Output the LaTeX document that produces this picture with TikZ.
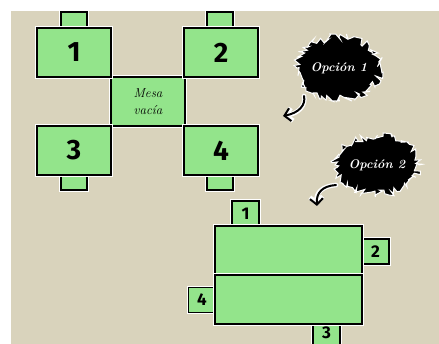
\documentclass[tikz,border=0pt]{standalone}
\usepackage{fontspec}
\setsansfont{Fira Sans}
\usetikzlibrary{arrows.meta,shapes.geometric,decorations.pathmorphing}
\definecolor{pared}{RGB}{217,211,188}
\definecolor{verdemesa}{RGB}{147,228,139}

\tikzset{
  halo/.style={preaction={draw=white,line width=3.6pt}},
  mesa/.style={draw=black,fill=verdemesa,line width=1.4pt,halo,inner sep=0pt,
    minimum width=74pt,minimum height=49pt,
    font=\sffamily\bfseries\fontsize{28}{28}\selectfont},
  silla/.style={mesa,minimum width=26pt,minimum height=16pt},
  sillab/.style={mesa,minimum width=27pt,minimum height=25pt,
    font=\sffamily\bfseries\fontsize{17}{17}\selectfont},
  mancha/.style={ellipse,fill=black,draw=white,line width=1pt,inner sep=1pt,
    minimum width=84pt,minimum height=62pt,text=white,
    font=\bfseries\itshape\fontsize{12.5}{12.5}\selectfont,
    decorate,decoration={random steps,segment length=2.2pt,amplitude=3.8pt}},
  flecha/.style={line width=2pt,line cap=round,-{Straight Barb[length=6pt,width=13pt]}},
  flechahalo/.style={flecha,white,line width=4.6pt}
}

\begin{document}
\begin{tikzpicture}[x=1pt,y=-1pt]
\clip (0,0) rectangle (439,344);
\fill[white] (0,0) rectangle (439,344);
\fill[pared] (11,11) rectangle (439,344);

% opcion 1
\node[silla] (s1) at (74,20) {};
\node[silla] (s2) at (220,20) {};
\node[silla] (s3) at (74,182) {};
\node[silla] (s4) at (220,182) {};
\node[mesa,font=\itshape\fontsize{13}{17}\selectfont,align=center] (vacia) at (148,101.5) {Mesa\\vacía};
\node[mesa] (m1) at (74,52.5) {1};
\node[mesa] (m2) at (221,52.5) {2};
\node[mesa] (m3) at (74,150.5) {3};
\node[mesa] (m4) at (221,150.5) {4};

% opcion 2
\node[sillab] (b1) at (245.5,213.5) {1};
\node[sillab] (b2) at (375.5,251.5) {2};
\node[sillab] (b4) at (202,300) {4};
\node[sillab,minimum height=36pt] (b3) at (326.5,333) {3};
\node[mesa,minimum width=147pt] (arriba) at (288.5,250.5) {};
\node[mesa,minimum width=147pt] (abajo) at (288.5,299.5) {};

% manchas y flechas
\node[mancha] (op1) at (339,68) {Opción 1};
\node[mancha,minimum width=84pt,minimum height=58pt] (op2) at (377,165) {Opción 2};

\coordinate (f1a) at (304,96);
\coordinate (f1b) at (283,116);
\coordinate (f2a) at (336,185);
\coordinate (f2b) at (317,206);
\draw[flechahalo] (f1a) .. controls (306,105) and (299,113) .. (f1b);
\draw[flecha] (f1a) .. controls (306,105) and (299,113) .. (f1b);
\draw[flechahalo] (f2a) .. controls (322,186) and (316,193) .. (f2b);
\draw[flecha] (f2a) .. controls (322,186) and (316,193) .. (f2b);
\end{tikzpicture}
\end{document}
